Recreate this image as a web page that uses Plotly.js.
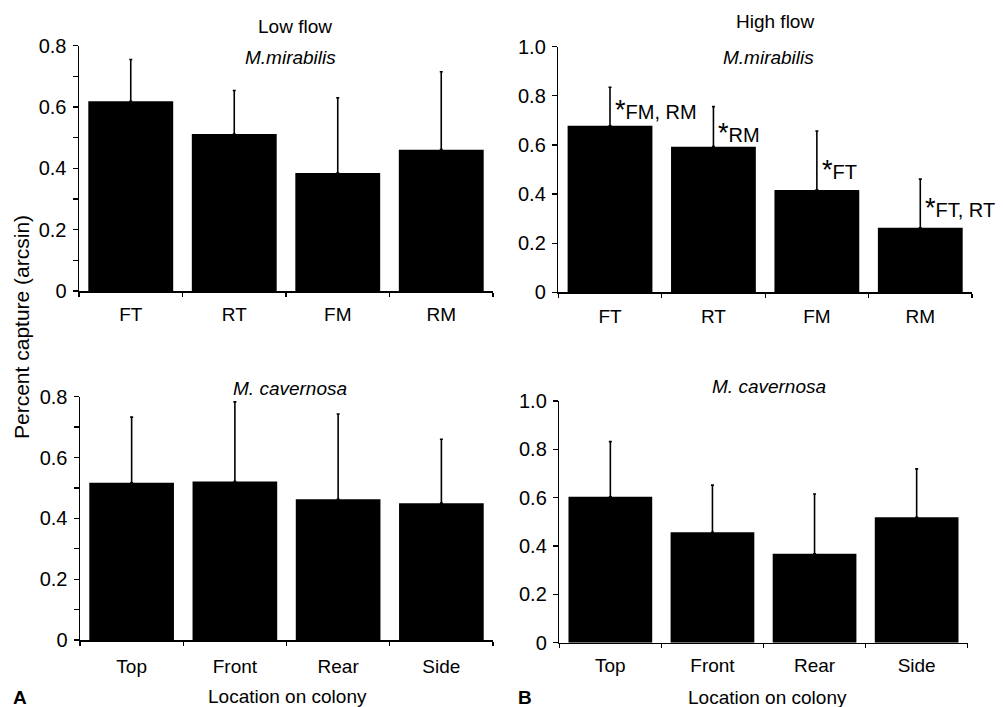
<!DOCTYPE html>
<html>
<head>
<meta charset="utf-8">
<script src="https://cdn.plot.ly/plotly-3.0.1.min.js"></script>
<style>html,body{margin:0;padding:0;background:#fff}#chart{width:1003px;height:707px}</style>
</head>
<body>
<div id="chart"></div>
<script>
// ---- data ----
var mirabilisCats = ['FT', 'RT', 'FM', 'RM'];
var cavernosaCats = ['Top', 'Front', 'Rear', 'Side'];

var lowMirabilisMean = [0.619, 0.512, 0.385, 0.461];
var lowMirabilisUpper = [0.755, 0.654, 0.630, 0.715];

var highMirabilisMean = [0.678, 0.593, 0.417, 0.263];
var highMirabilisUpper = [0.835, 0.756, 0.657, 0.461];

var lowCavernosaMean = [0.517, 0.521, 0.463, 0.450];
var lowCavernosaUpper = [0.733, 0.783, 0.743, 0.660];

var highCavernosaMean = [0.604, 0.457, 0.368, 0.519];
var highCavernosaUpper = [0.832, 0.652, 0.615, 0.719];

var sigLabels = ['FM, RM', 'RM', 'FT', 'FT, RT'];

// ---- helpers ----
var W = 1003, H = 707;
var FONT = 'Liberation Sans, Arial, Helvetica, sans-serif';
function px(x) { return x / W; }
function py(y) { return 1 - y / H; }

function barTrace(cats, mean, upper, xa, ya) {
  return {
    type: 'bar', x: cats, y: mean, xaxis: xa, yaxis: ya,
    marker: { color: '#000', line: { width: 0 } },
    error_y: {
      type: 'data', symmetric: false,
      array: upper.map(function (u, i) { return u - mean[i]; }),
      arrayminus: mean.map(function () { return 0; }),
      color: '#000', thickness: 1.6, width: 1.5
    },
    showlegend: false, hoverinfo: 'x+y'
  };
}

var data = [
  barTrace(mirabilisCats, lowMirabilisMean, lowMirabilisUpper, 'x', 'y'),
  barTrace(mirabilisCats, highMirabilisMean, highMirabilisUpper, 'x2', 'y2'),
  barTrace(cavernosaCats, lowCavernosaMean, lowCavernosaUpper, 'x3', 'y3'),
  barTrace(cavernosaCats, highCavernosaMean, highCavernosaUpper, 'x4', 'y4')
];

function xAxis(dom, anchor, standoff) {
  return {
    domain: dom, anchor: anchor, type: 'category', range: [-0.5, 3.5],
    showline: true, linecolor: '#000', linewidth: 1.5,
    ticks: 'outside', tickson: 'boundaries', ticklen: 4, tickwidth: 1.3, tickcolor: '#000',
    ticklabelstandoff: standoff,
    showgrid: false, zeroline: false,
    tickfont: { family: FONT, size: 19, color: '#000' }
  };
}
function yAxis(dom, anchor, max, labels, minor) {
  var vals = labels.map(function (s) { return parseFloat(s); });
  var a = {
    domain: dom, anchor: anchor, range: [0, max],
    tickvals: vals, ticktext: labels,
    showline: true, linecolor: '#000', linewidth: 1.5,
    ticks: 'outside', ticklen: 5, tickwidth: 1.3, tickcolor: '#000',
    ticklabelstandoff: 2,
    showgrid: false, zeroline: false,
    tickfont: { family: FONT, size: 20, color: '#000' }
  };
  if (minor) a.minor = { dtick: 0.1, tick0: 0, ticks: 'outside', ticklen: 5, tickwidth: 1.3, tickcolor: '#000', showgrid: false };
  return a;
}

var lowTicks = ['0', '0.2', '0.4', '0.6', '0.8'];
var highTicks = ['0', '0.2', '0.4', '0.6', '0.8', '1.0'];

function paperText(text, x, y, opts) {
  var a = {
    xref: 'paper', yref: 'paper', x: px(x), y: py(y), text: text, showarrow: false,
    xanchor: 'center', yanchor: 'middle',
    font: { family: FONT, size: 19, color: '#000' }
  };
  for (var k in (opts || {})) a[k] = opts[k];
  return a;
}

var annotations = [
  paperText('Low flow', 295, 26),
  paperText('<i>M.mirabilis</i>', 290, 58),
  paperText('High flow', 775, 21),
  paperText('<i>M.mirabilis</i>', 768, 58),
  paperText('<i>M. cavernosa</i>', 290, 388),
  paperText('<i>M. cavernosa</i>', 769, 386),
  paperText('Location on colony', 287, 696),
  paperText('Location on colony', 767, 697),
  paperText('Percent capture (arcsin)', 21, 327, { textangle: -90, font: { family: FONT, size: 21, color: '#000' } }),
  paperText('<b>A</b>', 20, 697),
  paperText('<b>B</b>', 525, 697)
];

var sigY = [0.742, 0.648, 0.498, 0.343];
sigLabels.forEach(function (lab, i) {
  annotations.push({
    xref: 'x2', yref: 'y2', x: mirabilisCats[i], y: sigY[i],
    text: '<span style="font-size:27px">*</span>' + lab,
    showarrow: false, xanchor: 'left', yanchor: 'middle', xshift: 3,
    font: { family: FONT, size: 20, color: '#000' }
  });
});

var layout = {
  width: W, height: H,
  margin: { l: 0, r: 0, t: 0, b: 0 },
  paper_bgcolor: '#fff', plot_bgcolor: '#fff',
  bargap: 0.18,
  showlegend: false,
  xaxis: xAxis([px(79), px(493)], 'y', 6),
  yaxis: yAxis([py(291), py(45.7)], 'x', 0.8, lowTicks, true),
  xaxis2: xAxis([px(558.3), px(972)], 'y2', 6),
  yaxis2: yAxis([py(292.3), py(46.7)], 'x2', 1.0, highTicks, false),
  xaxis3: xAxis([px(80), px(493)], 'y3', 9),
  yaxis3: yAxis([py(640), py(396.7)], 'x3', 0.8, lowTicks, true),
  xaxis4: xAxis([px(559.3), px(967.7)], 'y4', 5),
  yaxis4: yAxis([py(642.7), py(401)], 'x4', 1.0, highTicks, false),
  annotations: annotations,
  font: { family: FONT, color: '#000' }
};

Plotly.newPlot('chart', data, layout, { displayModeBar: false, staticPlot: true });
</script>
</body>
</html>
